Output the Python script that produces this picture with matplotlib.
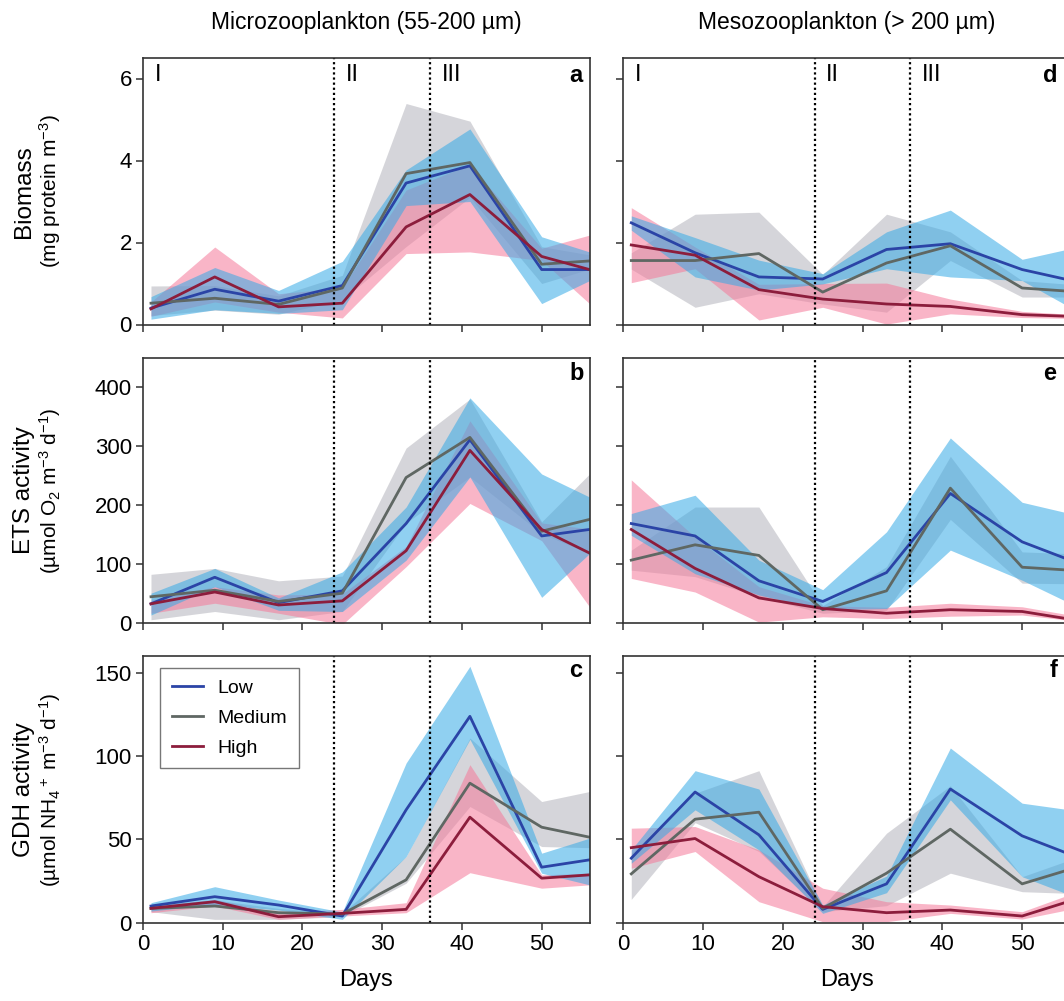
import matplotlib
matplotlib.use("Agg")
import matplotlib.pyplot as plt
import numpy as np

plt.rcParams['font.family'] = ['Liberation Sans', 'DejaVu Sans']
plt.rcParams['mathtext.fontset'] = 'custom'
plt.rcParams['mathtext.rm'] = 'Liberation Sans'
plt.rcParams['mathtext.it'] = 'Liberation Sans:italic'
plt.rcParams['mathtext.default'] = 'regular'

days = [1, 9, 17, 25, 33, 41, 50, 56]
groups = ['Low', 'Medium', 'High']

# ---- microzooplankton ----
micro_bio = {
    'Low':    [0.40, 0.86, 0.57, 0.95, 3.45, 3.87, 1.34, 1.34],
    'Medium': [0.52, 0.64, 0.49, 0.89, 3.68, 3.95, 1.47, 1.55],
    'High':   [0.38, 1.16, 0.43, 0.52, 2.38, 3.17, 1.66, 1.34],
}
micro_bio_lo = {
    'Low':    [0.13, 0.36, 0.27, 0.36, 2.90, 3.00, 0.51, 1.07],
    'Medium': [0.22, 0.35, 0.25, 0.60, 1.90, 3.10, 1.00, 1.35],
    'High':   [0.20, 0.55, 0.30, 0.16, 1.73, 1.77, 1.56, 0.51],
}
micro_bio_hi = {
    'Low':    [0.68, 1.39, 0.83, 1.54, 3.77, 4.77, 2.14, 1.77],
    'Medium': [0.94, 0.95, 0.70, 1.20, 5.39, 4.96, 1.90, 1.70],
    'High':   [0.55, 1.89, 0.75, 0.90, 3.28, 3.90, 1.86, 2.18],
}

micro_ets = {
    'Low':    [33, 78, 35, 55, 169, 311, 148, 159],
    'Medium': [45, 56, 37, 51, 247, 315, 156, 176],
    'High':   [33, 53, 31, 38, 123, 293, 159, 119],
}
micro_ets_lo = {
    'Low':    [14, 62, 22, 20, 107, 248, 44, 118],
    'Medium': [6, 20, 6, 20, 170, 248, 152, 118],
    'High':   [17, 34, 17, -2, 96, 203, 140, 28],
}
micro_ets_hi = {
    'Low':    [51, 93, 43, 87, 197, 382, 253, 214],
    'Medium': [83, 93, 72, 80, 297, 380, 172, 253],
    'High':   [39, 62, 48, 50, 130, 343, 170, 160],
}

micro_gdh = {
    'Low':    [10.0, 15.6, 10.6, 4.0, 67.7, 123.8, 33.3, 37.7],
    'Medium': [8.6, 10.0, 6.0, 5.2, 25.7, 83.7, 57.3, 51.3],
    'High':   [8.6, 12.6, 3.6, 5.6, 8.0, 63.3, 26.7, 28.7],
}
micro_gdh_lo = {
    'Low':    [7, 11, 7.6, 2, 39.7, 110, 29.7, 22.7],
    'Medium': [6.6, 2, 2, 3.6, 23.7, 69.7, 45.7, 45],
    'High':   [6, 10, 2, 4, 6, 30, 20.7, 22.7],
}
micro_gdh_hi = {
    'Low':    [12, 21.6, 13.6, 6.4, 95.8, 153.8, 41.7, 50.7],
    'Medium': [10.6, 13.6, 8.6, 5.6, 39.7, 110.8, 72.7, 78.7],
    'High':   [10, 14, 6, 8, 12, 94.8, 28.7, 29.7],
}

# ---- mesozooplankton ----
meso_bio = {
    'Low':    [2.48, 1.75, 1.16, 1.11, 1.83, 1.97, 1.34, 1.08],
    'Medium': [1.56, 1.56, 1.73, 0.79, 1.50, 1.92, 0.89, 0.81],
    'High':   [1.94, 1.69, 0.85, 0.62, 0.50, 0.44, 0.24, 0.20],
}
meso_bio_lo = {
    'Low':    [2.30, 1.16, 0.84, 0.99, 1.36, 1.16, 1.07, 0.42],
    'Medium': [1.35, 0.42, 0.75, 0.50, 0.30, 1.56, 0.67, 0.67],
    'High':   [1.02, 1.36, 0.11, 0.42, 0.01, 0.26, 0.17, 0.15],
}
meso_bio_hi = {
    'Low':    [2.65, 2.12, 1.57, 1.24, 2.26, 2.79, 1.59, 1.85],
    'Medium': [1.75, 2.69, 2.74, 1.22, 2.69, 2.26, 1.07, 0.98],
    'High':   [2.85, 1.89, 0.98, 1.00, 1.01, 0.62, 0.32, 0.25],
}

meso_ets = {
    'Low':    [169, 148, 72, 37, 86, 220, 138, 107],
    'Medium': [107, 133, 115, 23, 55, 229, 95, 90],
    'High':   [159, 93, 43, 25, 17, 23, 20, 7],
}
meso_ets_lo = {
    'Low':    [149, 84, 48, 23, 25, 124, 73, 34],
    'Medium': [90, 79, 45, 17, 22, 176, 68, 67],
    'High':   [76, 53, 2, 11, 8, 12, 14, 5],
}
meso_ets_hi = {
    'Low':    [186, 217, 107, 57, 155, 314, 205, 186],
    'Medium': [124, 197, 197, 30, 96, 283, 121, 118],
    'High':   [243, 146, 62, 30, 27, 34, 28, 14],
}

meso_gdh = {
    'Low':    [38.7, 78.4, 52.7, 8.0, 23.3, 80.2, 52.1, 41],
    'Medium': [29.3, 62.1, 66.3, 8.6, 29.7, 56.1, 23.3, 32],
    'High':   [45.0, 50.5, 27.6, 9.6, 6.0, 7.6, 4.0, 13],
}
meso_gdh_lo = {
    'Low':    [35.7, 67.7, 43.7, 5.6, 18, 73.7, 27.6, 16.6],
    'Medium': [14, 60, 42.7, 6.6, 10.2, 29.7, 18.6, 17.6],
    'High':   [32.7, 42.7, 12.6, 0.6, 0.6, 5.6, 2.2, 8],
}
meso_gdh_hi = {
    'Low':    [43.7, 91.2, 80.2, 10.6, 28, 104.8, 71.7, 67.7],
    'Medium': [41.7, 77.7, 91.2, 9.6, 53.7, 82.2, 27.6, 37.7],
    'High':   [56.7, 57.7, 43.7, 20.7, 12.6, 10.6, 6.6, 17],
}

line_col = {'Low': '#2b44a6', 'Medium': '#5f6763', 'High': '#8c1d3c'}
fill_col = {'Low': '#36aae6', 'Medium': '#b4b4bc', 'High': '#f5799a'}
fill_order = ['Medium', 'High', 'Low']

W, H = 1064, 1001
fig = plt.figure(figsize=(W / 100, H / 100), dpi=100)


def box(x0, x1, y0, y1):
    return [x0 / W, 1 - y1 / H, (x1 - x0) / W, (y1 - y0) / H]


cols = [(143, 589.5), (623.3, 1070)]
rows = [(58, 324.5), (357.7, 623.3), (656, 922.7)]

panels = [
    [(micro_bio, micro_bio_lo, micro_bio_hi), (micro_ets, micro_ets_lo, micro_ets_hi),
     (micro_gdh, micro_gdh_lo, micro_gdh_hi)],
    [(meso_bio, meso_bio_lo, meso_bio_hi), (meso_ets, meso_ets_lo, meso_ets_hi),
     (meso_gdh, meso_gdh_lo, meso_gdh_hi)],
]
ylims = [(0, 6.5), (0, 450), (0, 160)]
yticks = [[0, 2, 4, 6], [0, 100, 200, 300, 400], [0, 50, 100, 150]]
letters = [['a', 'b', 'c'], ['d', 'e', 'f']]
letter_x = [[0.969, 0.972, 0.969], [0.955, 0.955, 0.964]]
letter_y = [0.936, 0.94, 0.947]
ylabels = [('Biomass', '(mg protein m$^{-3}$)'),
           ('ETS activity', '(µmol O$_2$ m$^{-3}$ d$^{-1}$)'),
           ('GDH activity', '(µmol NH$_4$$^+$ m$^{-3}$ d$^{-1}$)')]
titles = ['Microzooplankton (55-200 µm)', 'Mesozooplankton (> 200 µm)']

for c in range(2):
    for r in range(3):
        ax = fig.add_axes(box(cols[c][0], cols[c][1], rows[r][0], rows[r][1]))
        mean, lo, hi = panels[c][r]
        for g in fill_order:
            ax.fill_between(days, lo[g], hi[g], color=fill_col[g], alpha=0.55, lw=0)
        for g in groups:
            ax.plot(days, mean[g], color=line_col[g], lw=2.0, label=g)
        for xv in (24, 36):
            ax.axvline(xv, color='black', ls=(0, (1, 1.3)), lw=1.6)
        ax.set_xlim(0, 56)
        ax.set_ylim(*ylims[r])
        ax.set_yticks(yticks[r])
        ax.set_xticks([0, 10, 20, 30, 40, 50])
        ax.tick_params(direction='out', length=5, width=1.1, labelsize=16,
                       color='#333333', pad=3)
        for s in ax.spines.values():
            s.set_linewidth(1.2)
            s.set_color('#333333')
        if c == 1:
            ax.set_yticklabels([])
        if r < 2:
            ax.set_xticklabels([])
        else:
            ax.set_xlabel('Days', fontsize=17, labelpad=10)
        ax.text(letter_x[c][r], letter_y[r], letters[c][r], transform=ax.transAxes,
                fontsize=17, fontweight='bold', ha='center', va='center')
        if r == 0:
            for txt, xv in zip(['I', 'II', 'III'], [1.9, 26.2, 38.7]):
                ax.text(xv, 0.936, txt, transform=ax.get_xaxis_transform(),
                        fontsize=17, ha='center', va='center')
        if c == 0 and r == 2:
            leg = ax.legend(loc='upper left', bbox_to_anchor=(0.038, 0.955),
                            borderaxespad=0, fontsize=14, fancybox=False,
                            edgecolor='#555555', handlelength=1.6,
                            handletextpad=0.75, labelspacing=0.62,
                            borderpad=0.6)
            leg.get_frame().set_linewidth(1.0)

for r in range(3):
    yc = 1 - (rows[r][0] + rows[r][1]) / 2 / H
    fig.text(24 / W, yc, ylabels[r][0], rotation=90, fontsize=17.5,
             ha='center', va='center')
    fig.text(50 / W, yc, ylabels[r][1], rotation=90, fontsize=15,
             ha='center', va='center')

for c in range(2):
    xc = (cols[c][0] + cols[c][1]) / 2 / W
    fig.text(xc, 1 - 22 / H, titles[c], fontsize=16.5, ha='center', va='center')

fig.savefig('out.png', dpi=100)
